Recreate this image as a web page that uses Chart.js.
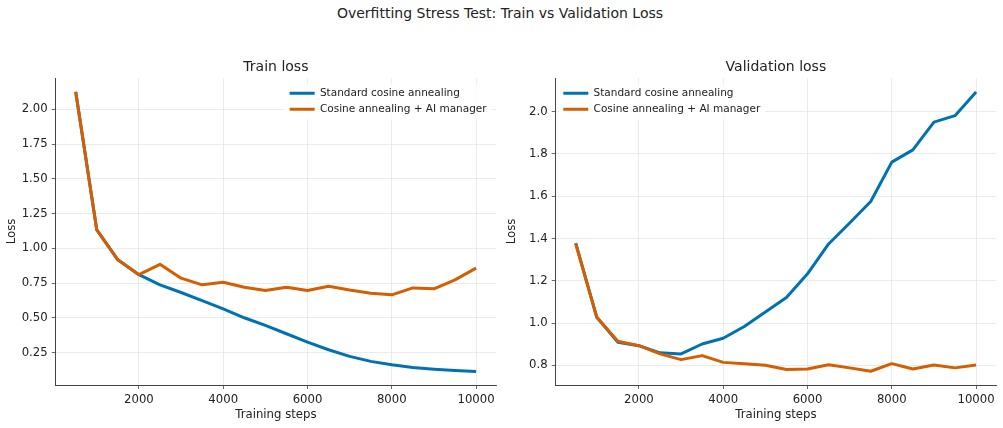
<!DOCTYPE html>
<html><head><meta charset="utf-8">
<script src="https://cdn.jsdelivr.net/npm/chart.js@4.4.0/dist/chart.umd.min.js"></script>
<style>
html,body{margin:0;padding:0;background:#fff;width:1003px;height:428px;overflow:hidden;}
#sup{position:absolute;left:0;top:5px;width:1000px;text-align:center;font-family:'DejaVu Sans',sans-serif;font-size:14px;line-height:16px;color:#222;}
.box{position:absolute;top:0;height:428px;}
</style></head><body>
<div id="sup">Overfitting Stress Test: Train vs Validation Loss</div>
<div class="box" style="left:0;width:500px"><canvas id="c1" width="500" height="428"></canvas></div>
<div class="box" style="left:500px;width:503px"><canvas id="c2" width="503" height="428"></canvas></div>
<script>
const steps = [500,1000,1500,2000,2500,3000,3500,4000,4500,5000,5500,6000,6500,7000,7500,8000,8500,9000,9500,10000];
const trainStandard = [2.127,1.132,0.917,0.81,0.737,0.682,0.624,0.564,0.50,0.445,0.385,0.325,0.27,0.222,0.186,0.162,0.142,0.130,0.121,0.114];
const trainAI = [2.125,1.132,0.917,0.81,0.885,0.785,0.737,0.756,0.72,0.696,0.72,0.696,0.727,0.70,0.677,0.665,0.715,0.708,0.773,0.857];
const valStandard = [1.378,1.027,0.909,0.893,0.859,0.854,0.901,0.928,0.984,1.052,1.121,1.233,1.374,1.473,1.575,1.761,1.819,1.95,1.981,2.093];
const valAI = [1.375,1.027,0.914,0.893,0.854,0.827,0.846,0.814,0.808,0.80,0.78,0.783,0.803,0.788,0.772,0.808,0.783,0.802,0.788,0.802];
const xTicks = [2000,4000,6000,8000,10000];
const trainYTicks = [0.25,0.5,0.75,1.0,1.25,1.5,1.75,2.0];
const valYTicks = [0.8,1.0,1.2,1.4,1.6,1.8,2.0];
const seriesLabels = ['Standard cosine annealing','Cosine annealing + AI manager'];
const seriesColors = ['#0072B2','#D55E00'];

Chart.defaults.font.family = "'DejaVu Sans', sans-serif";
const TXT = '#222';
const TICK_FS = 11.7, LEG_FS = 10.5, TITLE_FS = 14;

const legendPlacer = {
  id: 'legendPlacer',
  afterLayout(chart, args, opts) {
    const lg = chart.legend;
    if (!lg || !lg.columnSizes || !lg.columnSizes.length) return;
    const pad = lg.options.labels.padding;
    const colW = lg.columnSizes[0].width;
    const ca = chart.chartArea;
    if (opts.side === 'right') lg.left = ca.right - opts.edge - pad - colW;
    else lg.left = ca.left + opts.edge - pad;
    lg.top = ca.top + opts.top;
    if (!lg._framed) {
      lg._framed = true;
      const orig = lg.draw;
      lg.draw = function(...a) {
        const ctx = chart.ctx;
        const p = this.options.labels.padding;
        const w = this.columnSizes[0].width;
        ctx.save();
        ctx.fillStyle = 'rgba(255,255,255,0.8)';
        ctx.fillRect(this.left + p - 5, this.top + p - 5, w + 10, 2 * LEG_FS + p + 10);
        ctx.restore();
        return orig.apply(this, a);
      };
    }
  }
};

function makeChart(id, title, standard, ai, yMin, yMax, yTicks, dec, side, edge, padRight) {
  const series = [standard, ai];
  const datasets = series.map((arr, k) => ({
    label: seriesLabels[k],
    data: steps.map((x, i) => ({x: x, y: arr[i]})),
    borderColor: seriesColors[k],
    backgroundColor: seriesColors[k],
    borderWidth: 3,
    pointRadius: 0,
    pointHoverRadius: 0,
    pointBorderWidth: 3,
    tension: 0,
    fill: false,
    borderJoinStyle: 'round',
    order: k === 0 ? 1 : 0
  }));
  return new Chart(document.getElementById(id), {
    type: 'line',
    data: {datasets},
    plugins: [legendPlacer],
    options: {
      responsive: false,
      animation: false,
      devicePixelRatio: 1,
      layout: {padding: {left: 0, right: padRight, top: 0, bottom: 0}},
      plugins: {
        title: {display: true, text: title, fullSize: false, color: TXT,
          font: {size: TITLE_FS, weight: 'normal'}, padding: {top: 58.6, bottom: 2.6}},
        legend: {display: true, position: 'chartArea', align: 'start',
          labels: {font: {size: LEG_FS}, color: TXT, usePointStyle: true, pointStyle: 'line',
            pointStyleWidth: 25, padding: 5.5, sort: (a, b) => a.datasetIndex - b.datasetIndex}},
        tooltip: {enabled: false},
        legendPlacer: {side: side, edge: edge, top: 4.55}
      },
      scales: {
        x: {
          type: 'linear', min: 25, max: 10475,
          afterBuildTicks: s => { s.ticks = xTicks.map(v => ({value: v})); },
          afterFit: s => { s.height = 43; },
          ticks: {font: {size: TICK_FS}, color: TXT, padding: 3.5, maxRotation: 0, autoSkip: false,
            callback: v => String(v)},
          grid: {color: '#e6e6e6', lineWidth: 0.8, tickColor: '#444', tickLength: 4, z: -1},
          border: {color: '#444', width: 1},
          title: {display: true, text: 'Training steps', color: TXT, font: {size: TICK_FS},
            padding: {top: 0, bottom: 6}}
        },
        y: {
          type: 'linear', min: yMin, max: yMax,
          afterBuildTicks: s => { s.ticks = yTicks.map(v => ({value: v})); },
          afterFit: s => { s.width = 55.7; },
          ticks: {font: {size: TICK_FS}, color: TXT, padding: 4, autoSkip: false,
            callback: v => Number(v).toFixed(dec)},
          grid: {color: '#e6e6e6', lineWidth: 0.8, tickColor: '#444', tickLength: 4, z: -1},
          border: {color: '#444', width: 1},
          title: {display: true, text: 'Loss', color: TXT, font: {size: TICK_FS},
            padding: {top: 4.7, bottom: 0}}
        }
      }
    }
  });
}

makeChart('c1', 'Train loss', trainStandard, trainAI, 0.016, 2.226, trainYTicks, 2, 'right', 9.5, 3.9);
makeChart('c2', 'Validation loss', valStandard, valAI, 0.707, 2.159, valYTicks, 1, 'left', 7.6, 6.9);
</script>
</body></html>
